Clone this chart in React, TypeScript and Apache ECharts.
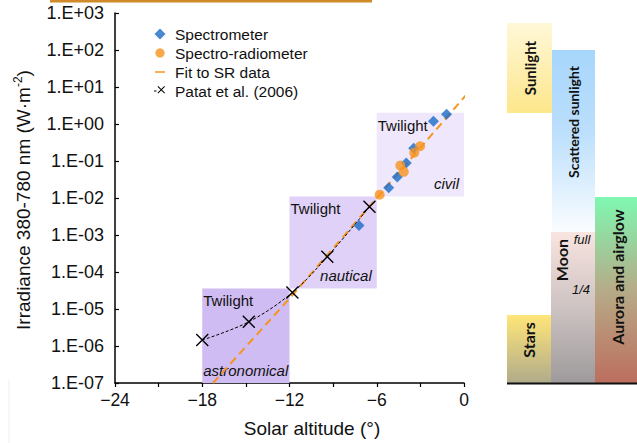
import React, { useEffect, useRef } from "react";
import * as echarts from "echarts";

// ---- data (irradiance in W·m-2, solar altitude in degrees) ----
const patatAlt = [-18, -14.8, -11.8, -9.4, -6.5];
const patatIrr = [1.45e-6, 4.5e-6, 2.8e-5, 2.6e-4, 5.8e-3];
const specAlt = [-1.2, -2.1, -3.46, -3.97, -4.59, -5.18, -7.22];
const specIrr = [1.84, 1.18, 0.22, 0.088, 0.037, 0.019, 0.0018];
const srAlt = [-3.02, -3.42, -4.38, -4.14, -5.8];
const srIrr = [0.25, 0.168, 0.0755, 0.051, 0.0123];
const fitAlt = [-17.26, -11.96, 0.12];
const fitIrr = [1e-7, 2.0e-5, 5.9];
const bandNames = ["civil", "nautical", "astronomical"];
const bandStart = [-6, -12, -18];
const bandEnd = [0, -6, -12];
const bandTop = [2.0, 0.011, 3.6e-5];
const bandBottom = [0.011, 3.6e-5, 1e-7];
const bandColors = ["#efe7fc", "#e0d1f8", "#cfbcf2"];
const legendNames = ["Spectrometer", "Spectro-radiometer", "Fit to SR data", "Patat et al. (2006)"];
const yMinExp = -7;
const yMaxExp = 3;

const FONT = "'Liberation Sans', Arial, Helvetica, sans-serif";
const BFONT = "Lato, 'Open Sans', sans-serif";

const lg = (v: number) => Math.log10(v);
const pair = (xs: number[], ys: number[]) => xs.map((x, i) => [x, lg(ys[i])]);
const BOX = "M0,0 L0.01,0 L0,0.01 Z M16,14 L15.99,14 L16,13.99 Z ";

function vgrad(stops: [number, string][]) {
  return new echarts.graphic.LinearGradient(0, 0, 0, 1, stops.map(([offset, color]) => ({ offset, color })));
}

export default function App() {
  const ref = useRef<HTMLDivElement>(null);
  useEffect(() => {
    if (!ref.current) return;
    const chart = echarts.init(ref.current, null, { renderer: "svg" });
    const bandData: any[] = [];
    bandNames.forEach((n, i) => {
      bandData.push([
        {
          coord: [bandStart[i], lg(bandTop[i])],
          itemStyle: { color: bandColors[i] },
          label: { show: true, formatter: "Twilight", position: "insideTopLeft", distance: 5, offset: [-4, 0], color: "#111", fontSize: 15, fontFamily: FONT },
        },
        { coord: [bandEnd[i], lg(bandBottom[i])] },
      ]);
      bandData.push([
        {
          coord: [bandStart[i], lg(bandTop[i])],
          itemStyle: { color: "rgba(0,0,0,0)" },
          label: {
            show: true,
            formatter: n,
            position: i === 2 ? "insideBottomLeft" : "insideBottomRight",
            distance: 5,
            offset: i === 2 ? [-4, 0] : [0, 0],
            color: "#111",
            fontSize: 15,
            fontStyle: "italic",
            fontFamily: FONT,
          },
        },
        { coord: [bandEnd[i], lg(bandBottom[i])] },
      ]);
    });

    const expLabel = (v: number) => {
      const e = Math.round(v);
      const s = e < 0 ? "-" : "+";
      const a = Math.abs(e);
      return "1.E" + s + (a < 10 ? "0" + a : "" + a);
    };

    const option: any = {
      animation: false,
      textStyle: { fontFamily: FONT },
      grid: { left: 115, top: 13, right: 173, bottom: 60, containLabel: false },
      xAxis: {
        type: "value",
        min: -24,
        max: 0,
        interval: 6,
        axisLine: { onZero: false, lineStyle: { color: "#000", width: 1.5 } },
        axisTick: { show: true, inside: false, length: 4, lineStyle: { color: "#000", width: 1.2 } },
        minorTick: { show: true, splitNumber: 2, length: 4, lineStyle: { color: "#000", width: 1.2 } },
        splitLine: { show: false },
        axisLabel: {
          color: "#111",
          fontSize: 17.5,
          fontFamily: FONT,
          margin: 8,
          formatter: (v: number) => (v < 0 ? "\u2212" + Math.abs(v) : "0"),
        },
      },
      yAxis: {
        type: "value",
        min: yMinExp,
        max: yMaxExp,
        interval: 1,
        axisLine: { show: true, onZero: false, lineStyle: { color: "#000", width: 1.5 } },
        axisTick: { show: true, inside: true, length: 4, lineStyle: { color: "#000", width: 1.2 } },
        splitLine: { show: false },
        axisLabel: { color: "#111", fontSize: 18, fontFamily: FONT, margin: 11, formatter: expLabel },
      },
      legend: {
        orient: "vertical",
        left: 149,
        top: 21,
        itemWidth: 16,
        itemHeight: 14,
        itemGap: 3,
        selectedMode: false,
        textStyle: { fontSize: 15.5, color: "#111", fontFamily: FONT, padding: [0, 0, 0, 0] },
        data: [
          { name: legendNames[0], icon: "path://" + BOX + "M6,1.5 L11.5,7 L6,12.5 L0.5,7 Z", itemStyle: { color: "#1a6bc4" } },
          { name: legendNames[1], icon: "path://" + BOX + "M6,2.3 A4.7,4.7 0 1 1 5.99,2.3 Z", itemStyle: { color: "#f7931e" } },
          { name: legendNames[2], icon: "path://" + BOX + "M1,6.2 L11,6.2 L11,7.8 L1,7.8 Z", itemStyle: { color: "#f7931e", borderWidth: 0 } },
          {
            name: legendNames[3],
            icon:
              "path://" +
              BOX +
              "M0,6.5 L2.5,6.5 L2.5,7.5 L0,7.5 Z M3.5,2.7 L4.2,2 L11,8.8 L10.3,9.5 Z M10.3,2 L11,2.7 L4.2,9.5 L3.5,8.8 Z",
            itemStyle: { color: "#000", borderWidth: 0 },
          },
        ],
      },
      series: [
        {
          name: "_bands",
          type: "line",
          data: [],
          z: 0,
          silent: true,
          markArea: { silent: true, data: bandData },
        },
        {
          name: legendNames[2],
          type: "line",
          data: pair(fitAlt, fitIrr),
          showSymbol: false,
          symbol: "none",
          clip: false,
          z: 2,
          lineStyle: { color: "#f7931e", width: 2, type: [8, 5] },
          itemStyle: { color: "#f7931e" },
        },
        {
          name: legendNames[3],
          type: "line",
          data: pair(patatAlt, patatIrr),
          smooth: 0.35,
          symbol: "path://M0,0 L10,10 M10,0 L0,10",
          symbolSize: 12,
          z: 3,
          lineStyle: { color: "#000", width: 1, type: [3, 2] },
          itemStyle: { color: "none", borderColor: "#000", borderWidth: 1.4 },
        },
        {
          name: legendNames[0],
          type: "scatter",
          data: pair(specAlt, specIrr),
          symbol: "diamond",
          symbolSize: 11,
          z: 4,
          itemStyle: { color: "#1a6bc4" },
        },
        {
          name: legendNames[1],
          type: "scatter",
          data: pair(srAlt, srIrr),
          symbol: "circle",
          symbolSize: 10,
          z: 5,
          itemStyle: { color: "#f7931e" },
        },
      ],
      graphic: [
        { type: "rect", shape: { x: 50, y: 0, width: 322, height: 2.5 }, style: { fill: "#d08a2a" }, silent: true },
        { type: "line", shape: { x1: 9, y1: 380, x2: 9, y2: 443 }, style: { stroke: "#eeeeee", lineWidth: 1 }, silent: true },
        {
          type: "text",
          x: 23,
          y: 200,
          rotation: Math.PI / 2,
          style: {
            text: "{a|Irradiance 380-780 nm (W·m}{s|-2}{a|)}",
            align: "center",
            verticalAlign: "middle",
            fill: "#111",
            rich: {
              a: { fontSize: 19, fontFamily: FONT, fill: "#111", lineHeight: 22 },
              s: { fontSize: 12, fontFamily: FONT, fill: "#111", verticalAlign: "top", lineHeight: 22 },
            },
          },
        },
        {
          type: "text",
          x: 312,
          y: 428,
          style: { text: "Solar altitude (°)", fontSize: 19, fontFamily: FONT, fill: "#111", align: "center", verticalAlign: "middle" },
        },
        // right panel
        {
          type: "rect",
          shape: { x: 507, y: 23, width: 45, height: 90 },
          style: { fill: vgrad([[0, "#fff8d8"], [1, "#fde68b"]]) },
        },
        {
          type: "rect",
          shape: { x: 552, y: 50, width: 43, height: 183 },
          style: { fill: vgrad([[0, "#a6d6fc"], [0.45, "#bcdffc"], [1, "#fbfdff"]]) },
        },
        {
          type: "rect",
          shape: { x: 551, y: 232, width: 44, height: 151 },
          style: { fill: vgrad([[0, "#f9e4e0"], [0.5, "#cdc3c2"], [1, "#9e9a9b"]]) },
        },
        {
          type: "rect",
          shape: { x: 507, y: 315, width: 44, height: 68 },
          style: { fill: vgrad([[0, "#ffe679"], [1, "#b0ab8a"]]) },
        },
        {
          type: "rect",
          shape: { x: 595, y: 197, width: 42, height: 186 },
          style: { fill: vgrad([[0, "#7ff8b1"], [0.5, "#b6ab88"], [1, "#bd6e5e"]]) },
        },
        { type: "line", shape: { x1: 507, y1: 383.5, x2: 637, y2: 383.5 }, style: { stroke: "#111", lineWidth: 2 } },
        {
          type: "text", x: 530, y: 68, rotation: Math.PI / 2,
          style: { text: "Sunlight", fontSize: 15, fontWeight: "bold", fontFamily: BFONT, fill: "#111", align: "center", verticalAlign: "middle" },
        },
        {
          type: "text", x: 573, y: 122, rotation: Math.PI / 2,
          style: { text: "Scattered sunlight", fontSize: 14, fontWeight: "bold", fontFamily: BFONT, fill: "#111", align: "center", verticalAlign: "middle" },
        },
        {
          type: "text", x: 561, y: 260, rotation: Math.PI / 2,
          style: { text: "Moon", fontSize: 16, fontWeight: "bold", fontFamily: BFONT, fill: "#111", align: "center", verticalAlign: "middle" },
        },
        {
          type: "text", x: 528, y: 340, rotation: Math.PI / 2,
          style: { text: "Stars", fontSize: 16, fontWeight: "bold", fontFamily: BFONT, fill: "#111", align: "center", verticalAlign: "middle" },
        },
        {
          type: "text", x: 617, y: 277, rotation: Math.PI / 2,
          style: { text: "Aurora and airglow", fontSize: 16, fontWeight: "bold", fontFamily: BFONT, fill: "#111", align: "center", verticalAlign: "middle" },
        },
        {
          type: "text", x: 582, y: 239,
          style: { text: "full", fontSize: 13, fontStyle: "italic", fontFamily: FONT, fill: "#111", align: "center", verticalAlign: "middle" },
        },
        {
          type: "text", x: 581, y: 289,
          style: { text: "1/4", fontSize: 13, fontStyle: "italic", fontFamily: FONT, fill: "#111", align: "center", verticalAlign: "middle" },
        },
      ],
    };
    chart.setOption(option);
    return () => chart.dispose();
  }, []);
  return (
    <div
      ref={ref}
      style={{ position: "fixed", left: 0, top: 0, width: 637, height: 443, background: "#fff" }}
    />
  );
}
